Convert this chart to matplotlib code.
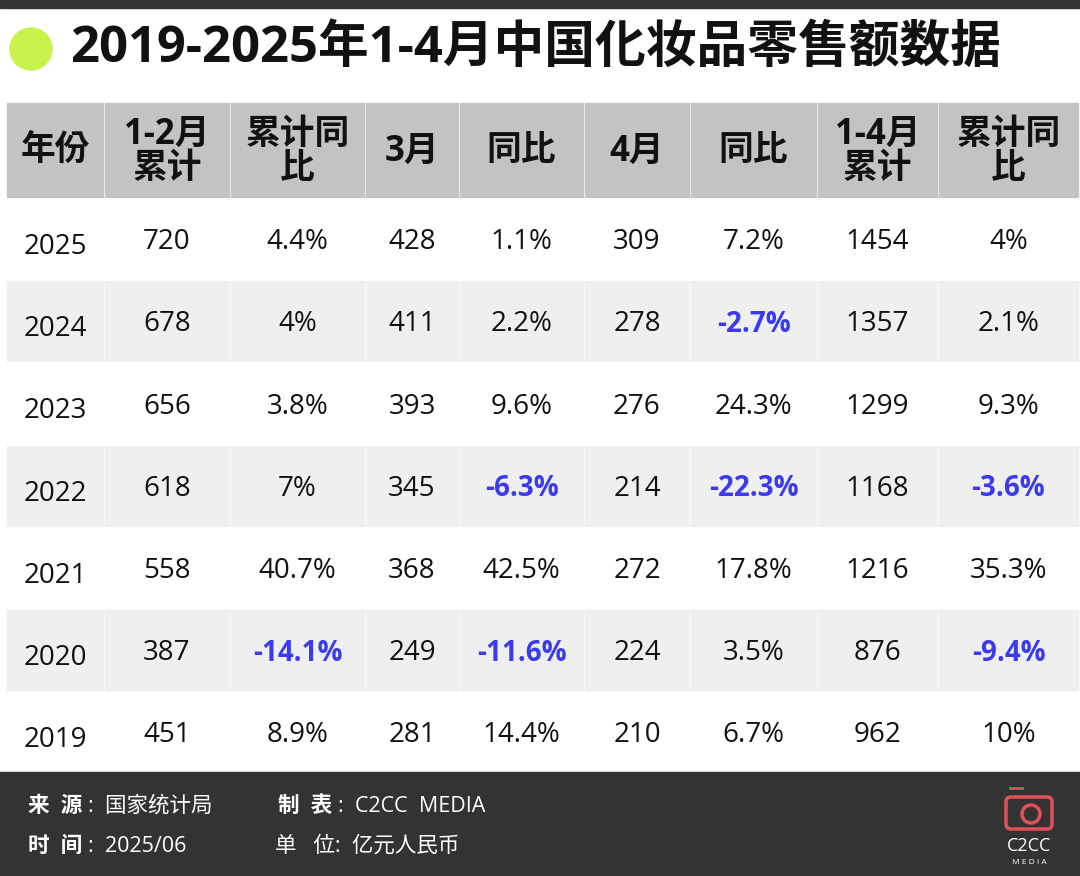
import matplotlib
matplotlib.use("Agg")
import matplotlib.pyplot as plt
from matplotlib.patches import Rectangle, Circle, FancyBboxPatch

CJK = ["Open Sans", "Noto Sans CJK SC", "Noto Sans CJK JP", "Noto Sans CJK TC", "Noto Sans CJK KR", "DejaVu Sans"]
plt.rcParams["font.family"] = CJK

title = "2019-2025年1-4月中国化妆品零售额数据"
headers = ["年份", "1-2月\n累计", "累计同\n比", "3月", "同比", "4月", "同比", "1-4月\n累计", "累计同\n比"]
years = ["2025", "2024", "2023", "2022", "2021", "2020", "2019"]
jan_feb = [720, 678, 656, 618, 558, 387, 451]
jan_feb_yoy = ["4.4%", "4%", "3.8%", "7%", "40.7%", "-14.1%", "8.9%"]
mar = [428, 411, 393, 345, 368, 249, 281]
mar_yoy = ["1.1%", "2.2%", "9.6%", "-6.3%", "42.5%", "-11.6%", "14.4%"]
apr = [309, 278, 276, 214, 272, 224, 210]
apr_yoy = ["7.2%", "-2.7%", "24.3%", "-22.3%", "17.8%", "3.5%", "6.7%"]
jan_apr = [1454, 1357, 1299, 1168, 1216, 876, 962]
jan_apr_yoy = ["4%", "2.1%", "9.3%", "-3.6%", "35.3%", "-9.4%", "10%"]

W, H = 1080, 876
fig = plt.figure(figsize=(W/100, H/100), dpi=100)
ax = fig.add_axes([0, 0, 1, 1])
ax.set_xlim(0, W); ax.set_ylim(H, 0); ax.axis("off")

ax.add_patch(Rectangle((0, 0), W, 8, color="#333333"))
ax.add_patch(Circle((31, 49), 21, color="#c6f24a"))
ax.text(70, 49, title, fontsize=36.5, fontweight="bold", va="center", ha="left", color="#111111")

col_edges = [7, 105, 231, 366, 460, 585, 691, 818, 939, 1080]
hdr_top, hdr_bot = 103, 197
row_top = 199
row_h = 82.2
gap = 2

for i in range(9):
    x0, x1 = col_edges[i], col_edges[i+1]
    ax.add_patch(Rectangle((x0, hdr_top), x1 - x0 - gap, hdr_bot - hdr_top, color="#c2c4c2"))
    ax.text((x0 + x1 - gap)/2, (hdr_top + hdr_bot)/2 + 2, headers[i], fontsize=25, fontweight="bold",
            ha="center", va="center", linespacing=0.95, color="#111111")

cols = [years, [str(v) for v in jan_feb], jan_feb_yoy, [str(v) for v in mar], mar_yoy,
        [str(v) for v in apr], apr_yoy, [str(v) for v in jan_apr], jan_apr_yoy]

for r in range(len(years)):
    y0 = row_top + r*row_h
    for i in range(9):
        x0, x1 = col_edges[i], col_edges[i+1]
        if r % 2 == 1:
            ax.add_patch(Rectangle((x0, y0), x1 - x0 - gap, row_h - gap, color="#efefef"))
        s = cols[i][r]
        neg = s.startswith("-")
        yc = y0 + row_h/2 + 2 + (5 if i == 0 else 0)
        ax.text((x0 + x1 - gap)/2, yc, s, fontsize=20,
                fontweight="bold" if neg else "normal",
                color="#3a3aee" if neg else "#111111",
                ha="center", va="center")

ax.add_patch(Rectangle((0, 772), W, H - 772, color="#333333"))
fs = 15.5
ax.text(28, 806, "来  源", fontsize=fs, fontweight="bold", color="white", va="center")
ax.text(88, 806, ":  国家统计局", fontsize=fs, color="white", va="center")
ax.text(278, 806, "制  表", fontsize=fs, fontweight="bold", color="white", va="center")
ax.text(338, 806, ":  C2CC  MEDIA", fontsize=fs, color="white", va="center")
ax.text(28, 846, "时  间", fontsize=fs, fontweight="bold", color="white", va="center")
ax.text(88, 846, ":  2025/06", fontsize=fs, color="white", va="center")
ax.text(275, 846, "单   位:  亿元人民币", fontsize=fs, color="white", va="center")

ax.add_patch(FancyBboxPatch((1006, 797), 46, 32, boxstyle="round,pad=0,rounding_size=5",
                            fill=False, ec="#e0505a", lw=2.5))
ax.add_patch(Circle((1031, 814), 9, fill=False, ec="#e0505a", lw=2.5))
ax.plot([1010, 1022], [788, 788], color="#e0505a", lw=2)
ax.text(1029, 846, "C2CC", fontsize=13, color="white", ha="center", va="center")
ax.text(1029, 862, "M E D I A", fontsize=6, color="white", ha="center", va="center")

fig.savefig("out.png", dpi=100)
